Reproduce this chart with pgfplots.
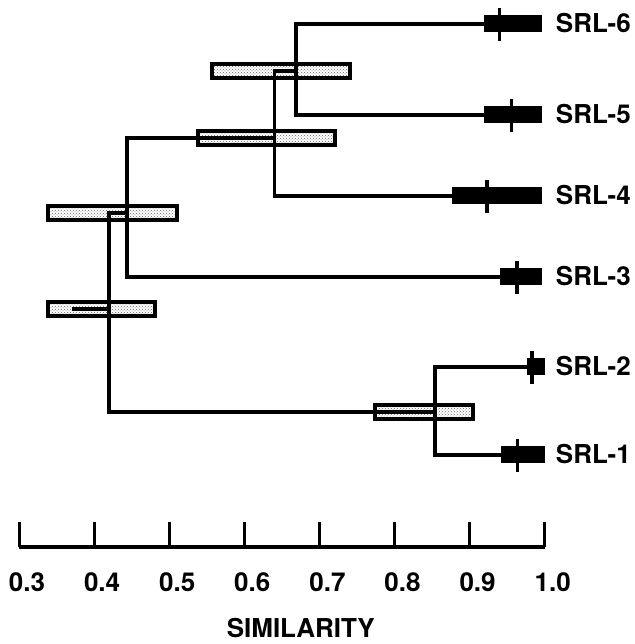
\documentclass[border=0pt]{standalone}
\usepackage{fontspec}
\setmainfont{TeX Gyre Heros}
\usepackage{pgfplots}
\usetikzlibrary{patterns}
\pgfplotsset{compat=1.18}
\newcommand{\lbl}{\fontsize{26}{31}\selectfont\bfseries}

\begin{document}
\begin{tikzpicture}
\begin{axis}[
    x=751pt, y=1pt,
    xmin=0.3, xmax=1.0,
    ymin=97, ymax=640,
    enlargelimits=false,
    clip=false,
    axis x line=bottom,
    hide y axis,
    x axis line style={-, line width=3.5pt},
    xtick={0.3,0.4,0.5,0.6,0.7,0.8,0.9,1.0},
    xticklabels={0.3,0.4,0.5,0.6,0.7,0.8,0.9,1.0},
    tick align=inside,
    major tick length=25pt,
    xtick style={line width=3pt, black},
    xticklabel style={font=\lbl, anchor=center, yshift=-35pt, xshift=8pt},
    xlabel={SIMILARITY},
    xlabel style={font=\lbl, at={(axis description cs:0.536,-0.150)}, anchor=center},
    box/.style={draw=black, line width=4pt, fill=white,
        postaction={pattern=crosshatch dots, pattern color=black!60}},
    branch/.style={black, line width=3.3pt, no marks},
    leaf/.style={fill=black, draw=none, no marks},
    lefttick/.style={black, line width=3.3pt, no marks},
]
% confidence boxes at the internal nodes
\addplot[box] coordinates {(0.557,566) (0.741,566) (0.741,580) (0.557,580)} -- cycle;
\addplot[box] coordinates {(0.538,499) (0.721,499) (0.721,513) (0.538,513)} -- cycle;
\addplot[box] coordinates {(0.339,424) (0.510,424) (0.510,438) (0.339,438)} -- cycle;
\addplot[box] coordinates {(0.339,328) (0.481,328) (0.481,342) (0.339,342)} -- cycle;
\addplot[box] coordinates {(0.774,225) (0.904,225) (0.904,239) (0.774,239)} -- cycle;

% branches
\addplot[branch] coordinates {(0.919,620) (0.669,620) (0.669,529) (0.919,529)};
\addplot[branch] coordinates {(0.669,573) (0.640,573) (0.640,448) (0.877,448)};
\addplot[branch] coordinates {(0.640,506) (0.444,506) (0.444,367) (0.940,367)};
\addplot[branch] coordinates {(0.444,431) (0.420,431) (0.420,232) (0.854,232)};
\addplot[branch] coordinates {(0.976,277) (0.854,277) (0.854,189) (0.942,189)};
\addplot[branch] coordinates {(0.420,335) (0.371,335)};

% leaf ranges
\addplot[leaf] coordinates {(0.919,611.5) (0.997,611.5) (0.997,628.5) (0.919,628.5)} -- cycle;
\addplot[leaf] coordinates {(0.919,520.5) (0.997,520.5) (0.997,537.5) (0.919,537.5)} -- cycle;
\addplot[leaf] coordinates {(0.877,439.5) (0.997,439.5) (0.997,456.5) (0.877,456.5)} -- cycle;
\addplot[leaf] coordinates {(0.940,358.5) (0.997,358.5) (0.997,375.5) (0.940,375.5)} -- cycle;
\addplot[leaf] coordinates {(0.976,268.5) (1.000,268.5) (1.000,285.5) (0.976,285.5)} -- cycle;
\addplot[leaf] coordinates {(0.942,180.5) (1.000,180.5) (1.000,197.5) (0.942,197.5)} -- cycle;

% leaf means
\addplot[lefttick] coordinates {(0.940,603) (0.940,636)};
\addplot[lefttick] coordinates {(0.956,512) (0.956,545)};
\addplot[lefttick] coordinates {(0.923,431) (0.923,464)};
\addplot[lefttick] coordinates {(0.963,350) (0.963,383)};
\addplot[lefttick] coordinates {(0.983,260) (0.983,293)};
\addplot[lefttick] coordinates {(0.964,172) (0.964,205)};

% leaf names
\tikzset{leafname/.style={anchor=base west, inner sep=0pt, xshift=11pt, yshift=-9pt, font=\lbl}}
\node[leafname] at (axis cs:1.0,620) {SRL-6};
\node[leafname] at (axis cs:1.0,529) {SRL-5};
\node[leafname] at (axis cs:1.0,448) {SRL-4};
\node[leafname] at (axis cs:1.0,367) {SRL-3};
\node[leafname] at (axis cs:1.0,277) {SRL-2};
\node[leafname] at (axis cs:1.0,189) {SRL-1};

\coordinate (bl) at (axis cs:0.2747,0);
\coordinate (tr) at (axis cs:1.1189,644);
\end{axis}
\pgfresetboundingbox
\path[use as bounding box] (bl) rectangle (tr);
\end{tikzpicture}
\end{document}
